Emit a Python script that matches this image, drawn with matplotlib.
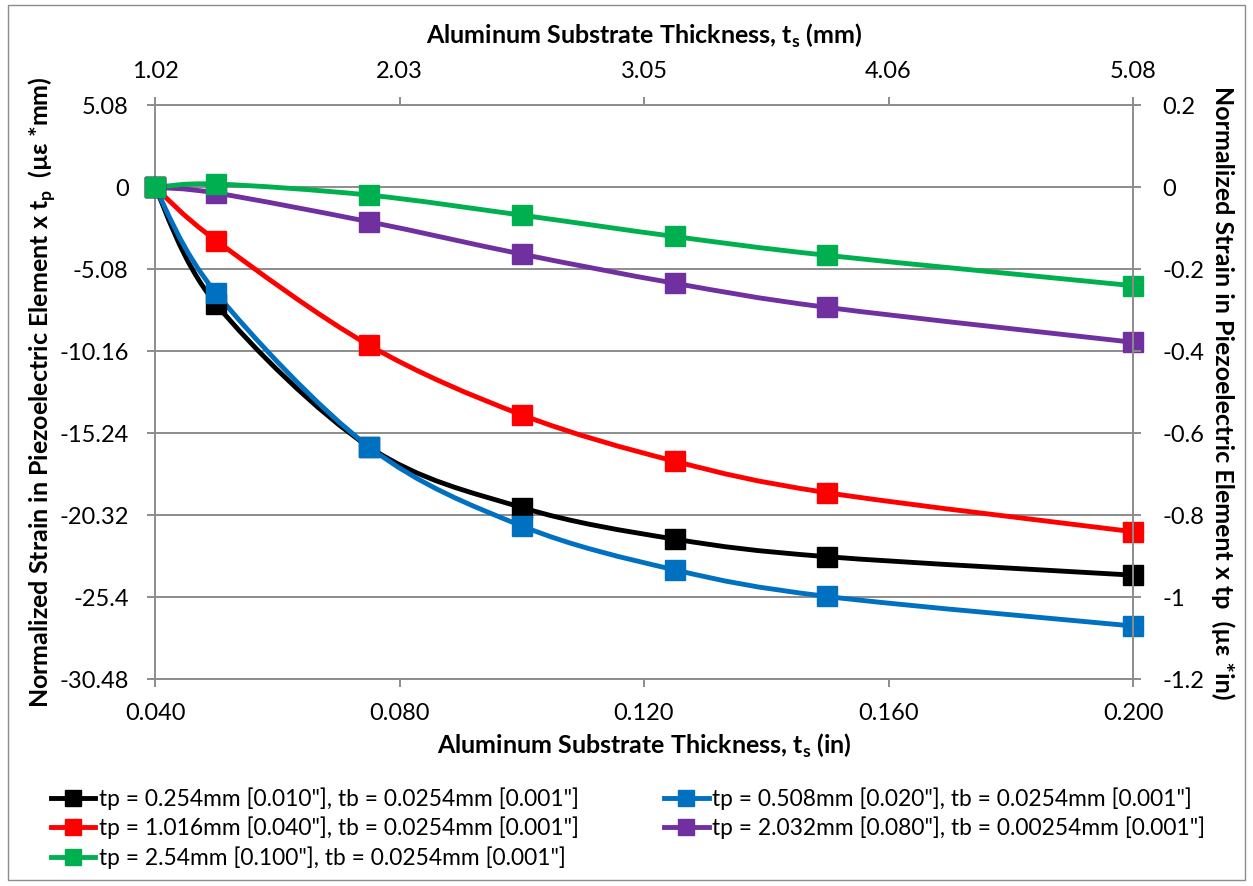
import matplotlib
matplotlib.use("Agg")
import matplotlib.pyplot as plt
import numpy as np
from matplotlib.path import Path
from matplotlib.patches import PathPatch, Rectangle
from matplotlib.lines import Line2D

plt.rcParams['font.family'] = ['Lato', 'Noto Sans', 'DejaVu Sans']
plt.rcParams['mathtext.fontset'] = 'custom'

# ---------------- data ----------------
ts_in = [0.040, 0.050, 0.075, 0.100, 0.125, 0.150, 0.200]   # substrate thickness (in)
# normalized strain x tp (micro-strain * in)
s_tp010 = [0.0, -0.285, -0.633, -0.781, -0.858, -0.901, -0.946]
s_tp020 = [0.0, -0.258, -0.633, -0.826, -0.933, -0.998, -1.070]
s_tp040 = [0.0, -0.130, -0.385, -0.555, -0.668, -0.745, -0.840]
s_tp080 = [0.0, -0.014, -0.084, -0.163, -0.234, -0.293, -0.378]
s_tp100 = [0.0, 0.008, -0.019, -0.068, -0.120, -0.166, -0.240]

series_labels = [
    'tp = 0.254mm [0.010"], tb = 0.0254mm [0.001"]',
    'tp = 0.508mm [0.020"], tb = 0.0254mm [0.001"]',
    'tp = 1.016mm [0.040"], tb = 0.0254mm [0.001"]',
    'tp = 2.032mm [0.080"], tb = 0.00254mm [0.001"]',
    'tp = 2.54mm [0.100"], tb = 0.0254mm [0.001"]',
]
series_values = [s_tp010, s_tp020, s_tp040, s_tp080, s_tp100]
series_colors = ['#000000', '#0070C0', '#FF0000', '#7030A0', '#00B050']

x_ticks_in = [0.040, 0.080, 0.120, 0.160, 0.200]
x_ticklabels_in = ['0.040', '0.080', '0.120', '0.160', '0.200']
x_ticklabels_mm = ['1.02', '2.03', '3.05', '4.06', '5.08']
y_ticks_in = [0.2, 0.0, -0.2, -0.4, -0.6, -0.8, -1.0, -1.2]
y_ticklabels_in = ['0.2', '0', '-0.2', '-0.4', '-0.6', '-0.8', '-1', '-1.2']
y_ticklabels_mm = ['5.08', '0', '-5.08', '-10.16', '-15.24', '-20.32', '-25.4', '-30.48']

# ---------------- figure ----------------
W, H = 1253, 886
fig = plt.figure(figsize=(W / 100, H / 100), dpi=100)
fig.patches.append(Rectangle((8 / W, 1 - 880 / H), 1237 / W, 875 / H, transform=fig.transFigure,
                             fill=False, edgecolor='#8c8c8c', linewidth=1.0))

ax = fig.add_axes([155 / W, 1 - 679.3 / H, (1133 - 155) / W, (679.3 - 105.3) / H])
ax.set_xlim(0.04, 0.2)
ax.set_ylim(-1.2, 0.2)

gray = '#8c8c8c'
tick_fs = 17
label_fs = 18
legend_fs = 16.4


def smooth_path(xs, ys):
    """Excel-like smoothed line: Catmull-Rom spline as cubic Bezier segments."""
    pts = np.column_stack([xs, ys]).astype(float)
    n = len(pts)
    verts = [pts[0]]
    codes = [Path.MOVETO]
    for i in range(n - 1):
        p0 = pts[i - 1] if i > 0 else pts[i]
        p1 = pts[i]
        p2 = pts[i + 1]
        p3 = pts[i + 2] if i + 2 < n else pts[i + 1]
        c1 = p1 + (p2 - p0) / 6.0
        c2 = p2 - (p3 - p1) / 6.0
        verts += [c1, c2, p2]
        codes += [Path.CURVE4] * 3
    return Path(verts, codes)


for vals, col in zip(series_values, series_colors):
    patch = PathPatch(smooth_path(ts_in, vals), facecolor='none', edgecolor=col,
                      linewidth=3.5, zorder=3, capstyle='round', joinstyle='round')
    ax.add_patch(patch)
    ax.plot(ts_in, vals, linestyle='none', marker='s', markersize=14.5,
            color=col, markeredgecolor=col, zorder=4, clip_on=False)

# grid & spines
ax.set_yticks(y_ticks_in)
ax.set_yticklabels(y_ticklabels_mm, fontsize=tick_fs)
ax.set_xticks(x_ticks_in)
ax.set_xticklabels(x_ticklabels_in, fontsize=tick_fs)
ax.yaxis.grid(True, color=gray, linewidth=1.4, zorder=0)
ax.set_axisbelow(True)
for side in ['left', 'right', 'top', 'bottom']:
    ax.spines[side].set_color(gray)
    ax.spines[side].set_linewidth(1.4)
ax.spines['right'].set_visible(False)
ax.tick_params(axis='both', direction='out', length=6, width=1.4, color=gray)
ax.tick_params(axis='y', pad=13)
ax.tick_params(axis='x', pad=11)

ax.set_xlabel(r'Aluminum Substrate Thickness, t$_{\mathregular{s}}$ (in)', fontsize=label_fs,
              fontweight='bold', labelpad=6)
ax.set_ylabel(r'Normalized Strain in Piezoelectric Element x t$_{\mathregular{p}}$  (µε *mm)',
              fontsize=label_fs, fontweight='bold', labelpad=1)

# right axis
axr = ax.twinx()
axr.set_ylim(ax.get_ylim())
axr.set_yticks(y_ticks_in)
axr.set_yticklabels(y_ticklabels_in, fontsize=tick_fs)
for side in ['left', 'top', 'bottom']:
    axr.spines[side].set_visible(False)
axr.spines['right'].set_color(gray)
axr.spines['right'].set_linewidth(1.4)
axr.tick_params(axis='y', direction='out', length=6, width=1.4, color=gray, pad=15)
axr.set_ylabel('Normalized Strain in Piezoelectric Element x tp  (µε *in)', fontsize=label_fs,
               fontweight='bold', rotation=270, labelpad=22)

# top axis
axt = ax.twiny()
axt.set_xlim(ax.get_xlim())
axt.set_xticks(x_ticks_in)
axt.set_xticklabels(x_ticklabels_mm, fontsize=tick_fs)
for side in ['left', 'right', 'bottom', 'top']:
    axt.spines[side].set_visible(False)
axt.tick_params(axis='x', direction='out', length=6, width=1.4, color=gray, pad=11)
axt.set_xlabel(r'Aluminum Substrate Thickness, t$_{\mathregular{s}}$ (mm)', fontsize=label_fs,
               fontweight='bold', labelpad=12)

# legend (row-wise order like the reference: matplotlib fills columns first)
handles = [Line2D([], [], color=c, linewidth=3.5, marker='s', markersize=11,
                  markeredgecolor=c) for c in series_colors]
order = [0, 2, 4, 1, 3]
fig.legend([handles[i] for i in order], [series_labels[i] for i in order], ncol=2,
           loc='upper left', bbox_to_anchor=(51 / W, 1 - 787 / H), frameon=False,
           fontsize=legend_fs, handlelength=1.95, handletextpad=0.15, columnspacing=3.75,
           labelspacing=0.3, borderaxespad=0, borderpad=0)

fig.savefig('out.png', dpi=100)
